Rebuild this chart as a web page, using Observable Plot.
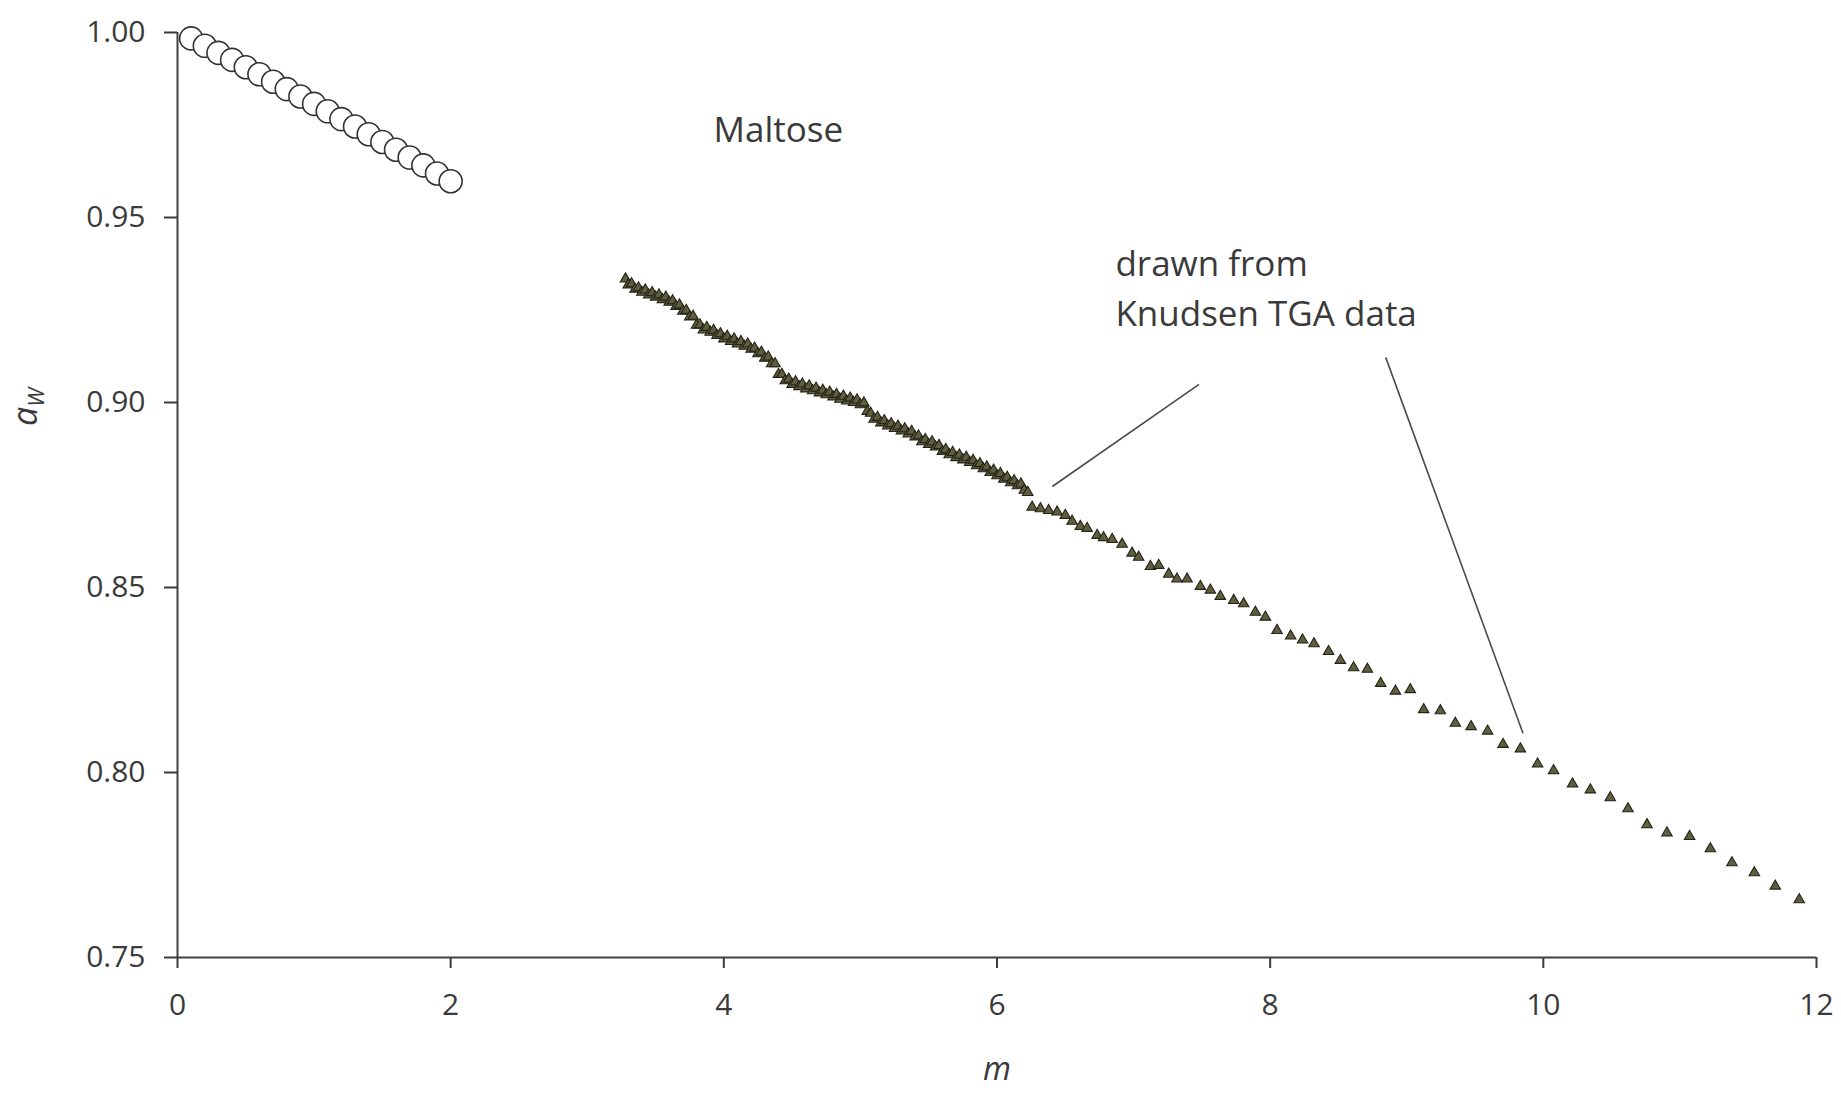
<!DOCTYPE html>
<html>
<head>
<meta charset="utf-8">
<script src="https://cdn.jsdelivr.net/npm/d3@7"></script>
<script src="https://cdn.jsdelivr.net/npm/@observablehq/plot@0.6"></script>
<style>
  html, body { margin: 0; padding: 0; background: #ffffff; }
</style>
</head>
<body>
<div id="chart"></div>
<script>
// ---- Data ----
const circleM  = [0.1, 0.2, 0.3, 0.4, 0.5, 0.6, 0.7, 0.8, 0.9, 1.0,
                  1.1, 1.2, 1.3, 1.4, 1.5, 1.6, 1.7, 1.8, 1.9, 2.0];
const circleAw = [0.9984, 0.9964, 0.9945, 0.9926, 0.9906, 0.9887, 0.9867, 0.9847, 0.9827, 0.9807,
                  0.9787, 0.9766, 0.9746, 0.9725, 0.9704, 0.9683, 0.9662, 0.9641, 0.9619, 0.9598];

// Knudsen TGA data (triangles)
const triM = [
  3.280, 3.300, 3.325, 3.350, 3.375, 3.400, 3.425, 3.450, 3.475, 3.500,
  3.525, 3.550, 3.575, 3.600, 3.625, 3.650, 3.675, 3.700, 3.725, 3.750,
  3.775, 3.800, 3.825, 3.850, 3.875, 3.900, 3.925, 3.950, 3.975, 4.000,
  4.025, 4.050, 4.075, 4.100, 4.125, 4.150, 4.175, 4.200, 4.225, 4.250,
  4.275, 4.300, 4.325, 4.350, 4.375, 4.400, 4.425, 4.450, 4.475, 4.500,
  4.525, 4.550, 4.575, 4.600, 4.625, 4.650, 4.675, 4.700, 4.725, 4.750,
  4.775, 4.800, 4.825, 4.850, 4.875, 4.900, 4.925, 4.950, 4.975, 5.000,
  5.025, 5.050, 5.075, 5.100, 5.125, 5.150, 5.175, 5.200, 5.225, 5.250,
  5.275, 5.300, 5.325, 5.350, 5.375, 5.400, 5.425, 5.450, 5.475, 5.500,
  5.525, 5.550, 5.575, 5.600, 5.625, 5.650, 5.675, 5.700, 5.725, 5.750,
  5.775, 5.800, 5.825, 5.850, 5.875, 5.900, 5.925, 5.950, 5.975, 6.000,
  6.025, 6.050, 6.075, 6.100, 6.125, 6.150, 6.175, 6.200, 6.225,
  6.257, 6.318, 6.378, 6.440, 6.500, 6.550, 6.610, 6.660, 6.733, 6.780,
  6.843, 6.916, 6.989, 7.037, 7.123, 7.184, 7.257, 7.318, 7.392, 7.489,
  7.562, 7.635, 7.733, 7.806, 7.892, 7.965, 8.050, 8.150, 8.237, 8.321,
  8.428, 8.514, 8.611, 8.712, 8.809, 8.917, 9.026, 9.124, 9.246, 9.356,
  9.471, 9.592, 9.705, 9.832, 9.958, 10.075, 10.214, 10.344, 10.490, 10.620,
  10.759, 10.905, 11.071, 11.223, 11.381, 11.545, 11.698, 11.874
];
const triAw = [
  0.9334, 0.9318, 0.9321, 0.9306, 0.9310, 0.9298, 0.9304, 0.9291, 0.9297, 0.9285,
  0.9291, 0.9278, 0.9285, 0.9271, 0.9275, 0.9260, 0.9264, 0.9247, 0.9249, 0.9231,
  0.9233, 0.9209, 0.9210, 0.9196, 0.9203, 0.9190, 0.9195, 0.9181, 0.9186, 0.9172,
  0.9179, 0.9165, 0.9172, 0.9158, 0.9165, 0.9152, 0.9158, 0.9144, 0.9147, 0.9132,
  0.9136, 0.9120, 0.9123, 0.9105, 0.9105, 0.9076, 0.9076, 0.9059, 0.9063, 0.9049,
  0.9056, 0.9043, 0.9050, 0.9037, 0.9045, 0.9032, 0.9039, 0.9026, 0.9033, 0.9021,
  0.9028, 0.9015, 0.9022, 0.9009, 0.9017, 0.9004, 0.9012, 0.9000, 0.9007, 0.8994,
  0.8999, 0.8976, 0.8971, 0.8955, 0.8960, 0.8945, 0.8951, 0.8937, 0.8943, 0.8930,
  0.8936, 0.8923, 0.8929, 0.8915, 0.8922, 0.8907, 0.8910, 0.8894, 0.8900, 0.8887,
  0.8894, 0.8880, 0.8884, 0.8868, 0.8873, 0.8859, 0.8865, 0.8851, 0.8858, 0.8845,
  0.8852, 0.8838, 0.8844, 0.8829, 0.8835, 0.8821, 0.8826, 0.8811, 0.8817, 0.8802,
  0.8808, 0.8793, 0.8798, 0.8783, 0.8789, 0.8775, 0.8780, 0.8763, 0.8757,
  0.8717, 0.8713, 0.8708, 0.8704, 0.8695, 0.8679, 0.8665, 0.8660, 0.8641, 0.8635,
  0.8630, 0.8617, 0.8593, 0.8582, 0.8557, 0.8560, 0.8536, 0.8523, 0.8523, 0.8503,
  0.8493, 0.8476, 0.8465, 0.8456, 0.8433, 0.8420, 0.8384, 0.8369, 0.8358, 0.8348,
  0.8327, 0.8303, 0.8283, 0.8279, 0.8241, 0.8220, 0.8224, 0.8170, 0.8167, 0.8133,
  0.8124, 0.8112, 0.8076, 0.8064, 0.8023, 0.8005, 0.7969, 0.7953, 0.7932, 0.7902,
  0.7859, 0.7837, 0.7827, 0.7794, 0.7756, 0.7729, 0.7693, 0.7656
];

const xTicks = [0, 2, 4, 6, 8, 10, 12];
const yTicks = [0.75, 0.80, 0.85, 0.90, 0.95, 1.00];

// Annotations (in data units)
const noteTexts = ["Maltose", "drawn from", "Knudsen TGA data"];
const noteM     = [3.924, 6.867, 6.867];
const noteAw    = [0.9735, 0.9372, 0.9237];

const leaderM1  = [7.479, 8.846];
const leaderAw1 = [0.9049, 0.9122];
const leaderM2  = [6.405, 9.851];
const leaderAw2 = [0.8773, 0.8106];

const xLabel = "m";
const yLabelMain = "a";
const yLabelSub = "W";

// ---- Build tables ----
const circles = circleM.map((m, i) => ({m, aw: circleAw[i]}));
const tris = triM.map((m, i) => ({m, aw: triAw[i]}));
const notes = noteTexts.map((t, i) => ({t, m: noteM[i], aw: noteAw[i]}));
const leaders = leaderM1.map((m, i) => ({m1: m, aw1: leaderAw1[i], m2: leaderM2[i], aw2: leaderAw2[i]}));

const ink = "#3a3a3a";

const plot = Plot.plot({
  width: 1841,
  height: 1093,
  marginLeft: 177,
  marginRight: 25,
  marginTop: 32,
  marginBottom: 136,
  style: {fontFamily: "'Open Sans', sans-serif", fontSize: "30px", color: ink, background: "#ffffff"},
  x: {domain: [0, 12]},
  y: {domain: [0.75, 1.0]},
  marks: [
    Plot.axisY({ticks: yTicks, tickFormat: d => d.toFixed(2), tickSize: 13, tickPadding: 19, label: null, fontSize: 30, strokeWidth: 2}),
    Plot.axisX({ticks: xTicks, tickFormat: d => String(d), tickSize: 11, tickPadding: 25, label: null, fontSize: 30, strokeWidth: 2}),
    Plot.ruleX([0], {stroke: "#404040", strokeWidth: 2}),
    Plot.ruleY([0.75], {stroke: "#404040", strokeWidth: 2}),
    Plot.link(leaders, {x1: "m1", y1: "aw1", x2: "m2", y2: "aw2", stroke: "#4a4a4a", strokeWidth: 1.6}),
    Plot.dot(tris, {x: "m", y: "aw", symbol: "triangle", r: 3.9, fill: "#5f5f3e", stroke: "#222218", strokeWidth: 1.1}),
    Plot.dot(circles, {x: "m", y: "aw", r: 11.5, fill: "#ffffff", stroke: "#333333", strokeWidth: 1.6}),
    Plot.text(notes, {x: "m", y: "aw", text: "t", textAnchor: "start", lineAnchor: "middle", fontSize: 35, fill: ink}),
    Plot.text([xLabel], {frameAnchor: "bottom", dy: 112, lineAnchor: "middle", fontSize: 32, fontStyle: "italic", fill: ink}),
    Plot.text([yLabelMain], {frameAnchor: "left", dx: -151, dy: -69, rotate: -90, lineAnchor: "middle", fontSize: 34, fontStyle: "italic", fill: ink, className: "ylab"})
  ]
});

// add subscript to the y label
d3.select(plot).selectAll("g.ylab text, .ylab text").each(function() {
  const t = d3.select(this);
  if (t.select("tspan.sub").empty()) {
    t.append("tspan").attr("class", "sub").attr("dy", "0.3em").attr("font-size", "22px").text(yLabelSub);
  }
});

document.getElementById("chart").appendChild(plot);
</script>
</body>
</html>
